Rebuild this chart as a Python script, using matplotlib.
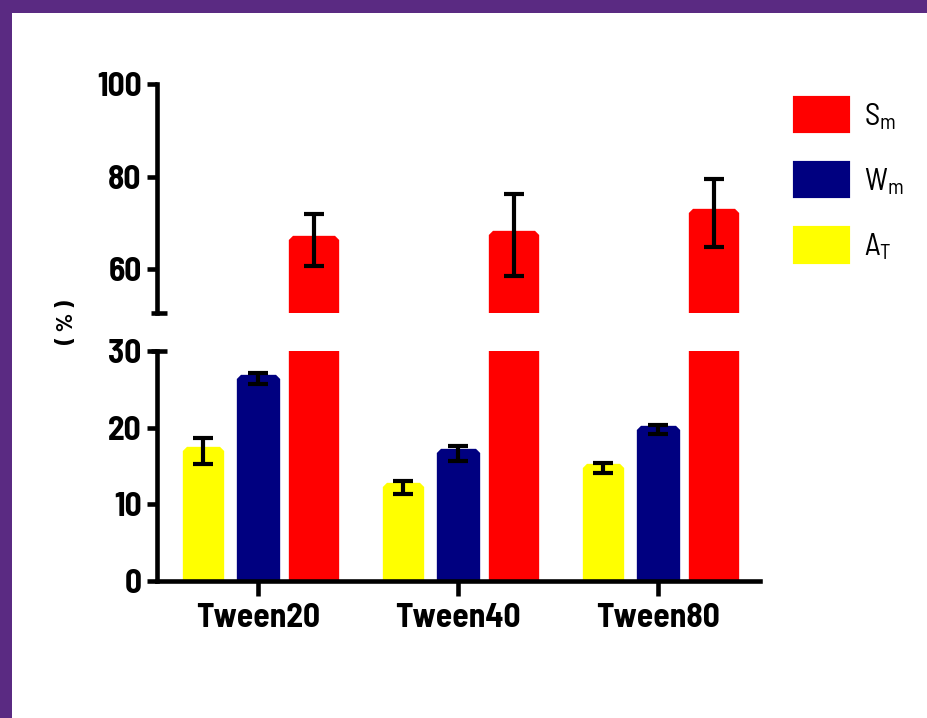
import matplotlib
matplotlib.use("Agg")
import matplotlib.pyplot as plt
from matplotlib.patches import Patch, Rectangle
import numpy as np

# ---- data -------------------------------------------------------------
categories = ["Tween20", "Tween40", "Tween80"]
series_labels = ["A$_\\mathregular{T}$", "W$_\\mathregular{m}$", "S$_\\mathregular{m}$"]

at_mean = [16.9, 12.25, 14.7]
at_err = [1.7, 0.85, 0.65]
wm_mean = [26.4, 16.65, 19.75]
wm_err = [0.75, 0.95, 0.55]
sm_mean = [66.3, 67.35, 72.1]
sm_err = [5.6, 8.85, 7.3]

lower_ticks = [0, 10, 20, 30]
upper_ticks = [60, 80, 100]

# ---- style ------------------------------------------------------------
plt.rcParams["font.family"] = ["Barlow Semi Condensed", "DejaVu Sans"]
plt.rcParams["mathtext.default"] = "regular"

colors = ["#FFFF00", "#000080", "#FF0000"]
offsets = [-0.275, 0.0, 0.278]
widths = [0.163, 0.174, 0.209]
SPINE_W = 3.3
EDGE_W = 6.0
TICK_FS = 24

W, H = 927, 718
fig = plt.figure(figsize=(W / 100, H / 100), dpi=100)
fig.patch.set_facecolor("white")

# purple frame on the top and left edges
purple = "#5A2A82"
fig.add_artist(Rectangle((0, 1 - 13 / H), 1, 13 / H, transform=fig.transFigure,
                         facecolor=purple, edgecolor="none", zorder=10))
fig.add_artist(Rectangle((0, 0), 12 / W, 1, transform=fig.transFigure,
                         facecolor=purple, edgecolor="none", zorder=10))

left, right = 157, 760
ax_lo = fig.add_axes([left / W, (H - 581) / H, (right - left) / W, 230 / H])
ax_hi = fig.add_axes([left / W, (H - 313) / H, (right - left) / W, 229 / H])

x = np.arange(len(categories))
means = [at_mean, wm_mean, sm_mean]
errs = [at_err, wm_err, sm_err]

for ax in (ax_lo, ax_hi):
    for m, e, c, off, w in zip(means, errs, colors, offsets, widths):
        bars = ax.bar(x + off, m, width=w, color=c, edgecolor=c,
                      linewidth=EDGE_W, zorder=2)
        for b in bars:
            b.set_joinstyle("bevel")
        ax.errorbar(x + off, m, yerr=e, fmt="none", ecolor="black",
                    elinewidth=3, capsize=7, capthick=3, zorder=3)
    ax.set_xlim(-0.5065, 2.5085)
    ax.set_facecolor("none")
    for s in ("top", "right"):
        ax.spines[s].set_visible(False)
    ax.spines["left"].set_linewidth(SPINE_W)
    ax.spines["bottom"].set_linewidth(SPINE_W)
    ax.tick_params(axis="y", length=7, width=SPINE_W, pad=4)

ax_lo.set_ylim(0, 30)
ax_lo.set_yticks(lower_ticks)
ax_lo.set_yticklabels([str(t) for t in lower_ticks], fontsize=TICK_FS, fontweight="bold")
ax_lo.set_xticks(x)
ax_lo.set_xticklabels(categories, fontsize=TICK_FS, fontweight="bold")
ax_lo.tick_params(axis="x", length=11, width=SPINE_W, pad=5)

ax_hi.set_ylim(50.49, 100)
ax_hi.set_yticks(upper_ticks)
ax_hi.set_yticklabels([str(t) for t in upper_ticks], fontsize=TICK_FS, fontweight="bold")
ax_hi.spines["bottom"].set_visible(False)
ax_hi.set_xticks([])

# short crossbars marking the axis break
ax_hi.plot([0.004], [0], marker="_", markersize=12, markeredgewidth=SPINE_W,
           color="black", transform=ax_hi.transAxes, clip_on=False, zorder=5)
ax_lo.plot([0.004], [1], marker="_", markersize=12, markeredgewidth=SPINE_W,
           color="black", transform=ax_lo.transAxes, clip_on=False, zorder=5)

fig.text(67 / W, 1 - 322 / H, "( % )", rotation=90, ha="center", va="center",
         fontsize=17, fontweight="bold")

# legend, top entry first
handles = [Patch(facecolor=c, edgecolor=c, linewidth=3, joinstyle="bevel")
           for c in colors[::-1]]
fig.legend(handles, series_labels[::-1], loc="upper left",
           bbox_to_anchor=(795 / W, 1 - 98 / H), bbox_transform=fig.transFigure,
           frameon=False, fontsize=22, handlelength=1.75, handleheight=1.3,
           labelspacing=1.03, handletextpad=0.5, borderpad=0, borderaxespad=0)

fig.savefig("out.png", dpi=100)
